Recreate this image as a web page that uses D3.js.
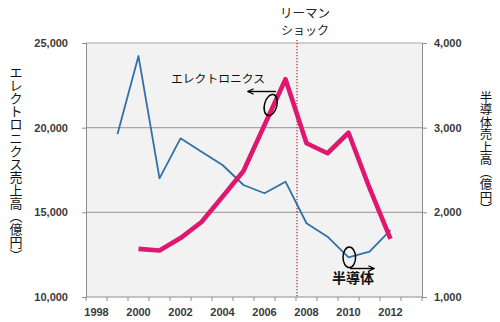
<!DOCTYPE html>
<html>
<head>
<meta charset="utf-8">
<script src="https://cdn.jsdelivr.net/npm/d3@7"></script>
<style>
  html, body { margin: 0; padding: 0; background: #fff; }
  svg { display: block; }
</style>
</head>
<body>
<svg id="chart" width="500" height="322"></svg>
<script>
// Category axis: one band per year
const years = [1998, 1999, 2000, 2001, 2002, 2003, 2004, 2005, 2006, 2007, 2008, 2009, 2010, 2011, 2012, 2013];
const yearLabels = [1998, 2000, 2002, 2004, 2006, 2008, 2010, 2012];

// エレクトロニクス売上高 (億円), left axis
const electronicsYears = [2000, 2001, 2002, 2003, 2004, 2005, 2006, 2007, 2008, 2009, 2010, 2011, 2012];
const electronicsSales = [12840, 12750, 13480, 14430, 15920, 17440, 20160, 22860, 19080, 18490, 19700, 16440, 13430];

// 半導体売上高 (億円), right axis
const semiYears = [1999, 2000, 2001, 2002, 2003, 2004, 2005, 2006, 2007, 2008, 2009, 2010, 2011, 2012];
const semiSales = [2925, 3846, 2402, 2874, 2716, 2559, 2323, 2225, 2362, 1871, 1712, 1469, 1535, 1791];

const leftTicks = [10000, 15000, 20000, 25000];
const rightTicks = [1000, 2000, 3000, 4000];
const eventYear = 2008;

// Axis titles, written top to bottom (︵ ︶ are the vertical bracket forms)
const leftTitle = Array.from("エレクトロニクス売上高︵億円︶");
const rightTitle = Array.from("半導体売上高︵億円︶");

const plot = { left: 86, right: 422, top: 43, bottom: 297 };

const svg = d3.select("#chart");
const jp = "'Noto Sans CJK JP', 'Noto Sans', sans-serif";
const num = "'Liberation Sans', Arial, sans-serif";

const x = d3.scaleBand().domain(years).range([plot.left, plot.right]).padding(0);
const cx = d => x(d) + x.bandwidth() / 2;
const yL = d3.scaleLinear().domain([10000, 25000]).range([plot.bottom, plot.top]);
const yR = d3.scaleLinear().domain([1000, 4000]).range([plot.bottom, plot.top]);

// Plot background
svg.append("rect")
  .attr("x", plot.left).attr("y", plot.top)
  .attr("width", plot.right - plot.left).attr("height", plot.bottom - plot.top)
  .attr("fill", "#f2f2f2");

// Horizontal gridlines
svg.append("g").selectAll("line")
  .data(leftTicks.filter(v => v > 10000))
  .join("line")
  .attr("x1", plot.left).attr("x2", plot.right)
  .attr("y1", d => yL(d)).attr("y2", d => yL(d))
  .attr("stroke", "#a6a6a6").attr("stroke-width", 1.2);

// Left axis
const gL = svg.append("g").attr("transform", `translate(${plot.left},0)`)
  .call(d3.axisLeft(yL).tickValues(leftTicks).tickSize(4).tickPadding(14).tickFormat(d3.format(",")));
// Right axis
const gR = svg.append("g").attr("transform", `translate(${plot.right},0)`)
  .call(d3.axisRight(yR).tickValues(rightTicks).tickSize(5).tickPadding(7).tickFormat(d3.format(",")));
// Bottom axis: labels at band centres, tick marks at band edges
const gB = svg.append("g").attr("transform", `translate(0,${plot.bottom})`)
  .call(d3.axisBottom(x).tickValues(yearLabels).tickSize(0).tickPadding(11));
gB.select(".domain").remove();
svg.append("g").selectAll("line")
  .data(years.concat([null]))
  .join("line")
  .attr("x1", (d, i) => plot.left + i * x.bandwidth())
  .attr("x2", (d, i) => plot.left + i * x.bandwidth())
  .attr("y1", plot.bottom).attr("y2", plot.bottom + 4)
  .attr("stroke", "#8c8c8c");
svg.append("line")
  .attr("x1", plot.left).attr("x2", plot.right)
  .attr("y1", plot.bottom).attr("y2", plot.bottom)
  .attr("stroke", "#8c8c8c");

[gL, gR, gB].forEach(g => {
  g.selectAll(".domain").attr("stroke", "#8c8c8c");
  g.selectAll(".tick line").attr("stroke", "#8c8c8c");
  g.selectAll("text")
    .attr("font-family", num).attr("font-size", 11).attr("font-weight", "bold")
    .attr("fill", "#3a3a3a");
});

// Lehman shock marker
svg.append("line")
  .attr("x1", x(eventYear) + 1).attr("x2", x(eventYear) + 1)
  .attr("y1", 40).attr("y2", plot.bottom)
  .attr("stroke", "#c0304a").attr("stroke-width", 1.3)
  .attr("stroke-dasharray", "1.3,1.7");
svg.append("text").attr("x", 305).attr("y", 18)
  .attr("text-anchor", "middle").attr("font-family", jp).attr("font-size", 12.5)
  .attr("fill", "#222").text("リーマン");
svg.append("text").attr("x", 305).attr("y", 35)
  .attr("text-anchor", "middle").attr("font-family", jp).attr("font-size", 12)
  .attr("fill", "#222").text("ショック");

// Series lines
const semiLine = d3.line().x((d, i) => cx(semiYears[i])).y(d => yR(d));
svg.append("path").datum(semiSales)
  .attr("d", semiLine)
  .attr("fill", "none").attr("stroke", "#3270a6").attr("stroke-width", 1.8)
  .attr("stroke-linejoin", "round");

const elecLine = d3.line().x((d, i) => cx(electronicsYears[i])).y(d => yL(d));
svg.append("path").datum(electronicsSales)
  .attr("d", elecLine)
  .attr("fill", "none").attr("stroke", "#e0176e").attr("stroke-width", 4.6)
  .attr("stroke-linejoin", "round").attr("stroke-linecap", "butt");

// Annotations
const defs = svg.append("defs");
defs.append("marker").attr("id", "arrow")
  .attr("viewBox", "0 0 10 10").attr("refX", 9).attr("refY", 5)
  .attr("markerWidth", 7).attr("markerHeight", 7)
  .attr("markerUnits", "userSpaceOnUse").attr("orient", "auto")
  .append("path").attr("d", "M1,1 L9,5 L1,9")
  .attr("fill", "none").attr("stroke", "#000").attr("stroke-width", 1.6);

svg.append("ellipse")
  .attr("transform", "translate(270.7,105) rotate(15)")
  .attr("rx", 6.2).attr("ry", 10.8)
  .attr("fill", "none").attr("stroke", "#000").attr("stroke-width", 1.5);
svg.append("line")
  .attr("x1", 276).attr("y1", 91.5).attr("x2", 248).attr("y2", 91.5)
  .attr("stroke", "#000").attr("stroke-width", 1.4).attr("marker-end", "url(#arrow)");
svg.append("text").attr("x", 171).attr("y", 83)
  .attr("font-family", jp).attr("font-size", 11.8).attr("fill", "#111")
  .text("エレクトロニクス");

svg.append("ellipse")
  .attr("cx", 349.3).attr("cy", 257.3).attr("rx", 6.3).attr("ry", 10.3)
  .attr("fill", "none").attr("stroke", "#000").attr("stroke-width", 1.5);
svg.append("line")
  .attr("x1", 350).attr("y1", 268.5).attr("x2", 374).attr("y2", 268.5)
  .attr("stroke", "#000").attr("stroke-width", 1.4).attr("marker-end", "url(#arrow)");
svg.append("text").attr("x", 353).attr("y", 283)
  .attr("text-anchor", "middle").attr("font-family", jp).attr("font-size", 14)
  .attr("font-weight", "bold").attr("fill", "#111").text("半導体");

// Vertical axis titles, one glyph per row
function verticalTitle(chars, cxPos, top, step, size) {
  svg.append("g").selectAll("text")
    .data(chars)
    .join("text")
    .attr("x", cxPos)
    .attr("y", (d, i) => top + step * (i + 0.5))
    .attr("text-anchor", "middle").attr("dominant-baseline", "central")
    .attr("font-family", jp).attr("font-size", size).attr("fill", "#111")
    .text(d => d);
}
verticalTitle(leftTitle, 16, 65, 13.1, 13);
verticalTitle(rightTitle, 486, 90, 12.5, 12.5);
</script>
</body>
</html>
